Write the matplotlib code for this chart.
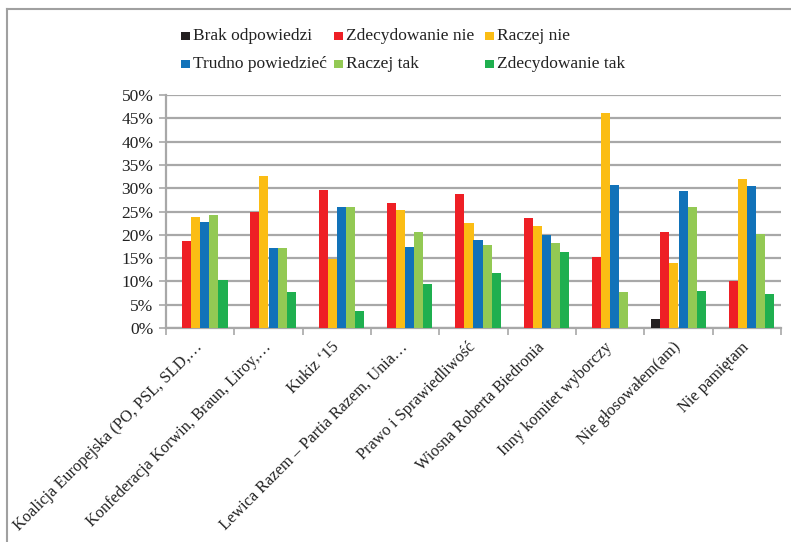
import matplotlib
matplotlib.use("Agg")
import matplotlib.pyplot as plt
from matplotlib.patches import Rectangle
from matplotlib.lines import Line2D
import numpy as np

categories = [
    "Koalicja Europejska (PO, PSL, SLD,…",
    "Konfederacja Korwin, Braun, Liroy,…",
    "Kukiz \u201815",
    "Lewica Razem – Partia Razem, Unia…",
    "Prawo i Sprawiedliwość",
    "Wiosna Roberta Biedronia",
    "Inny komitet wyborczy",
    "Nie głosowałem(am)",
    "Nie pamiętam",
]

series_names = ["Brak odpowiedzi", "Zdecydowanie nie", "Raczej nie",
                "Trudno powiedzieć", "Raczej tak", "Zdecydowanie tak"]

brak_odpowiedzi   = [0, 0, 0, 0, 0, 0, 0, 1.9, 0]
zdecydowanie_nie  = [18.7, 25.0, 29.6, 26.9, 28.7, 23.6, 15.3, 20.6, 10.1]
raczej_nie        = [23.9, 32.6, 14.8, 25.3, 22.6, 21.9, 46.1, 13.9, 31.9]
trudno_powiedziec = [22.7, 17.2, 25.9, 17.4, 18.8, 20.0, 30.7, 29.3, 30.4]
raczej_tak        = [24.2, 17.2, 25.9, 20.6, 17.9, 18.2, 7.7, 26.0, 20.2]
zdecydowanie_tak  = [10.3, 7.7, 3.7, 9.4, 11.8, 16.3, 0, 7.9, 7.2]

yticks = [0, 5, 10, 15, 20, 25, 30, 35, 40, 45, 50]
ytick_labels = [f"{v}%" for v in yticks]

colors = ["#231f20", "#ee1f25", "#fbbd14", "#1172b9", "#93c954", "#1faf4f"]
data = [brak_odpowiedzi, zdecydowanie_nie, raczej_nie,
        trudno_powiedziec, raczej_tak, zdecydowanie_tak]

W, H = 791, 542
fig = plt.figure(figsize=(W / 100, H / 100), dpi=100)
plt.rcParams['font.family'] = ['Liberation Serif', 'DejaVu Serif']
FS = 12.5
FSX = 11.8

ax_left, ax_right, ax_top, ax_bottom = 166, 781, 95, 328
ax = fig.add_axes([ax_left / W, 1 - ax_bottom / H,
                   (ax_right - ax_left) / W, (ax_bottom - ax_top) / H])

x = np.arange(len(categories))
n = len(data)
bw = 0.8 / n
for i, (vals, c) in enumerate(zip(data, colors)):
    ax.bar(x - 0.4 + bw * (i + 0.5), vals, width=bw, color=c, zorder=3,
           linewidth=0)

ax.set_xlim(-0.5, len(categories) - 0.5)
ax.set_ylim(0, 50)
ax.set_yticks(yticks)
ax.set_yticklabels(ytick_labels, fontsize=FS, color="#222222")
ax.yaxis.grid(True, color="#a8a8a8", linewidth=1.6, zorder=0)
ax.set_axisbelow(True)

ax.set_xticks(x)
ax.set_xticklabels(categories, rotation=45, ha="right", va="center",
                   rotation_mode="anchor", fontsize=FSX, color="#222222")
ax.tick_params(axis="x", which="major", length=0, pad=12)
ax.set_xticks(np.arange(-0.5, len(categories), 1), minor=True)
ax.tick_params(axis="x", which="minor", length=5, color="#a8a8a8", width=1.2)
ax.tick_params(axis="y", length=5, color="#a8a8a8", width=1.2, pad=4)

for s in ["top", "right"]:
    ax.spines[s].set_visible(False)
for s in ["left", "bottom"]:
    ax.spines[s].set_color("#a8a8a8")
    ax.spines[s].set_linewidth(1.6)

# legend (manual, row-wise like the reference)
col_x = [181, 334, 485]
row_y = [36, 64]
sq = 8.7
for i, name in enumerate(series_names):
    r, c = divmod(i, 3)
    cx, cy = col_x[c], row_y[r]
    fig.patches.append(Rectangle(((cx) / W, 1 - (cy + sq / 2) / H), sq / W, sq / H,
                                 transform=fig.transFigure, facecolor=colors[i],
                                 edgecolor="none"))
    fig.text((cx + sq + 3.5) / W, 1 - cy / H, name, fontsize=FS,
             va="center", ha="left", color="#222222")

# outer frame (top and left)
fig.add_artist(Line2D([7 / W, 1], [1 - 9 / H, 1 - 9 / H], transform=fig.transFigure,
                      color="#a0a0a0", linewidth=1.5))
fig.add_artist(Line2D([7 / W, 7 / W], [0, 1 - 9 / H], transform=fig.transFigure,
                      color="#a0a0a0", linewidth=1.5))

fig.savefig("out.png", dpi=100)
